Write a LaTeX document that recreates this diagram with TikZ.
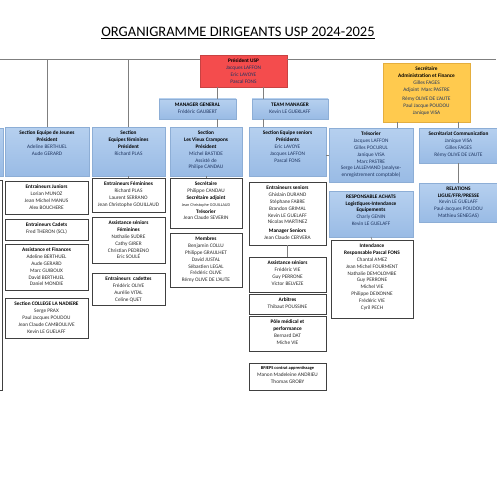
\documentclass[tikz,border=0pt]{standalone}
\usepackage{fontspec}
\setmainfont{Carlito}
\definecolor{cbluet}{HTML}{B6D0EF}
\definecolor{cblueb}{HTML}{99BBE5}
\definecolor{cblued}{HTML}{8DAED6}
\definecolor{cred}{HTML}{F44C4D}
\definecolor{credd}{HTML}{C84242}
\definecolor{cyel}{HTML}{FFCA4E}
\definecolor{cyeld}{HTML}{E4AE3E}
\definecolor{cgrayd}{HTML}{404040}
\definecolor{cnavy}{HTML}{1F3560}
\definecolor{ctext}{HTML}{2A2A2A}
\definecolor{cline}{HTML}{7F7F7F}
\newcommand\hd[1]{\textcolor{black}{\textbf{#1}}}
\newcommand\OB[7]{%
  \node[#1, anchor=north west, minimum width={#5pt-#3pt}, minimum height={#6pt-#4pt}] (#2) at (#3,#4) {};
  \node[txt, #1txt, anchor=north] (#2t) at ([yshift=-3.5pt]#2.north) {#7};}
\begin{document}
\begin{tikzpicture}[x=1pt,y=-1pt,
  bbox/.style={top color=cbluet, bottom color=cblueb, draw=cblued, line width=0.4pt, inner sep=0pt, outer sep=0pt},
  wbox/.style={fill=white, draw=cgrayd, line width=0.9pt, inner sep=0pt, outer sep=0pt},
  rbox/.style={fill=cred, draw=credd, line width=0.4pt, inner sep=0pt, outer sep=0pt},
  ybox/.style={fill=cyel, draw=cyeld, line width=0.4pt, inner sep=0pt, outer sep=0pt},
  txt/.style={font=\fontsize{5.3}{6.9}\selectfont, align=center, inner sep=0pt},
  bboxtxt/.style={text=cnavy}, wboxtxt/.style={text=ctext},
  rboxtxt/.style={text=cnavy}, yboxtxt/.style={text=cnavy},
  conn/.style={draw=cline, line width=0.6pt}]
\path[use as bounding box, fill=white] (0,0) rectangle (496,500);

\node[font=\fontsize{14.5}{16}\selectfont, text=black, inner sep=0pt] (title) at (238,33) {\underline{ORGANIGRAMME DIRIGEANTS USP 2024-2025}};

% partial boxes at the left edge
\node[bbox, anchor=north west, minimum width=13pt, minimum height=48pt] (lb1) at (-10,128) {};
\node[wbox, anchor=north west, minimum width=12pt, minimum height=210pt] (lb2) at (-10,180) {};

% top level
\OB{rbox}{pres}{200}{55}{287}{87}{\hd{Président USP}\\Jacques LAFFON\\Eric LAVOYE\\Pascal FONS}
\OB{ybox}{secr}{383}{63}{470}{122}{\hd{Secrétaire}\\\hd{Administration et Finance}\\Gilles FAGES\\Adjoint~~Marc PASTRE\\[2.5pt]Rémy OLIVE DE L'AUTE\\Paul Jacque POUDOU\\Janique VISA}
\OB{bbox}{mg}{159}{99}{236}{119}{\hd{MANAGER GENERAL}\\Frédéric GAUBERT}
\OB{bbox}{tm}{252}{99}{328}{119}{\hd{TEAM MANAGER}\\Kevin LE GUEKLAFF}

% sections
\OB{bbox}{jeunes}{5}{127}{89}{176}{\hd{Section Equipe de Jeunes}\\\hd{Président}\\Adeline BERTHUEL\\Aude GERARD}
\OB{bbox}{fem}{92}{127}{165}{176}{\hd{Section}\\\hd{Equipes féminines}\\\hd{Président}\\Richard PLAS}
\OB{bbox}{vc}{170}{127}{242}{176}{\hd{Section}\\\hd{Les Vieux Crampons}\\\hd{Président}\\Michel BASTIDE\\Assisté de\\Philipe CANDAU}
\OB{bbox}{sen}{249}{127}{326}{176}{\hd{Section Equipe seniors}\\\hd{Présidents}\\Eric LAVOYE\\Jacques LAFFON\\Pascal FONS}
\OB{bbox}{tres}{329}{128}{413}{182}{\hd{Trésorier}\\Jacques LAFFON\\Gilles POCURUL\\Janique VISA\\Marc PASTRE\\Serge LALLEMAND (analyse-\\enregistrement comptable)}
\OB{bbox}{comm}{419}{128}{498}{163}{\hd{Secrétariat Communication}\\Janique VISA\\Gilles FAGES\\Rémy OLIVE DE L'AUTE}
\OB{bbox}{rel}{419}{183}{498}{222}{\hd{RELATIONS}\\\hd{LIGUE/FFR/PRESSE}\\Kevin LE GUELAFF\\Paul-Jacques POUDOU\\Mathieu SENEGAS)}
\OB{bbox}{achats}{329}{191}{413}{237}{\hd{RESPONSABLE ACHATS}\\\hd{Logistiques-Intendance}\\\hd{Equipements}\\Charly GENIN\\Kevin LE GUELAFF}
\OB{wbox}{intend}{331}{240}{413}{318}{\hd{Intendance}\\\hd{Responsable Pascal FONS}\\Chantal AMEZ\\Jean Michel FOURMENT\\Nathalie DEMOLOMBE\\Guy PERRONE\\Michel VIE\\Philippe DEIXONNE\\Frédéric VIE\\Cyril PECH}

% jeunes column
\OB{wbox}{jun}{5}{181}{88}{214}{\hd{Entraineurs Juniors}\\Lorian MUNOZ\\Jean Michel MANUS\\Alex BOUCHERE}
\OB{wbox}{cad}{5}{219}{88}{240}{\hd{Entraineurs Cadets}\\Fred THERON (SCL)}
\OB{wbox}{fin}{5}{244}{88}{290}{\hd{Assistance et Finances}\\Adeline BERTHUEL\\Aude GERARD\\Marc GUIBOUX\\David BERTHUEL\\Daniel MONDIE}
\OB{wbox}{coll}{5}{298}{88}{338}{\hd{Section COLLEGE LA NADIERE}\\Serge PRAX\\Paul Jacques POUDOU\\Jean Claude CAMBOULIVE\\Kevin LE GUELAFF}

% feminine column
\OB{wbox}{entfem}{92}{178}{165}{212}{\hd{Entraineurs Féminines}\\Richard PLAS\\Laurent SERRANO\\Jean Christophe GOUILLAUD}
\OB{wbox}{assfem}{92}{217}{165}{263}{\hd{Assistance séniors}\\\hd{Féminines}\\Nathalie SUDRE\\Cathy GIRER\\Christian PEDRENO\\Eric SOULÉ}
\OB{wbox}{cadet}{92}{273}{165}{305}{\hd{Entraineurs~~cadettes}\\Frédéric OLIVE\\Aurélie VITAL\\Celine QUET}

% vieux crampons column
\OB{wbox}{vcsec}{170}{178}{242}{228}{\hd{Secrétaire}\\Philippe CANDAU\\\hd{Secrétaire adjoint}\\{\fontsize{4.2}{6.9}\selectfont Jean Christophe GOUILLAUD}\\\hd{Trésorier}\\Jean Claude SEVERIN}
\OB{wbox}{memb}{170}{233}{242}{287}{\hd{Membres}\\Benjamin COLLU\\Philippe GRAULHET\\David JUSTAL\\Sébastien LEGAL\\Frédéric OLIVE\\Rémy OLIVE DE L'AUTE}

% seniors column
\OB{wbox}{entsen}{249}{182}{326}{245}{\hd{Entraineurs seniors}\\Ghislain DURAND\\Stéphane FABRE\\Brandon GRIMAL\\Kevin LE GUELAFF\\Nicolas MARTINEZ\\[2pt]\hd{Manager Seniors}\\Jean Claude CERVERA}
\OB{wbox}{asssen}{249}{257}{326}{292}{\hd{Assistance séniors}\\Frédéric VIE\\Guy PERRONE\\Victor BELVEZE}
\OB{wbox}{arb}{249}{294}{326}{314}{\hd{Arbitres}\\Thibaut POUSSINE}
\OB{wbox}{pole}{249}{316}{326}{351}{\hd{Pôle médical et}\\\hd{performance}\\Bernard DAT\\Miche VIE}
\OB{wbox}{bpj}{249}{363}{326}{390}{{\fontsize{4.4}{6.9}\selectfont\hd{BPJEPS contrat apprentissage}}\\Manon Madeleine ANDRIEU\\Thomas GROBY}

% connectors
\coordinate (tl) at (0,59);
\coordinate (tr) at (496,59);
\draw[conn] (tl) -- (tl -| pres.west);
\draw[conn] (tl -| pres.east) -- (tr);
\draw[conn] (jeunes.north) -- (jeunes.north |- tl);
\draw[conn] (fem.north) -- (fem.north |- tl);
\coordinate (pm) at (217,87);
\coordinate (pt) at (263,87);
\draw[conn] (pm) -- (pm |- mg.north);
\draw[conn] (pm |- mg.south) -- (pm |- vc.north);
\draw[conn] (pt) -- (pt |- tm.north);
\draw[conn] (pt |- tm.south) -- (pt |- sen.north);
\coordinate (s1) at (397,122);
\coordinate (s2) at (458,122);
\draw[conn] (s1) -- (s1 |- tres.north);
\draw[conn] (s2) -- (s2 |- comm.north);
\draw[conn] (s2 |- comm.south) -- (s2 |- rel.north);
\coordinate (h1) at (326,155);
\draw[conn] (h1) -- (h1 -| tres.west);
\draw[conn] (fem.south) -- (entfem.north);
\draw[conn] (vc.south) -- (vcsec.north);
\draw[conn] (entsen.south) -- (asssen.north);
\draw[conn] (achats.south) -- (intend.north);
\end{tikzpicture}
\end{document}
